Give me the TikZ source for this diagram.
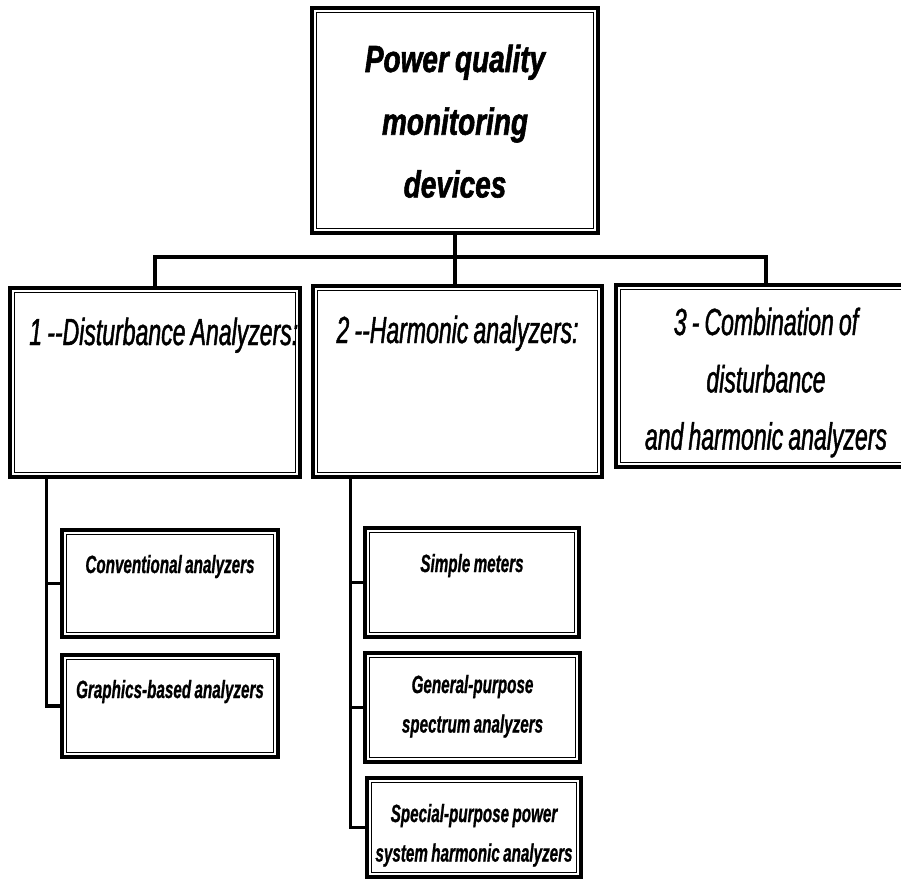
\documentclass[tikz,border=0pt]{standalone}
\usepackage{fontspec}
\usepackage{tikz}
\usetikzlibrary{calc}

% Condensed sans faces (the scan uses a narrow Arial-like face)
\newfontfamily\titlefont{Liberation Sans}[FakeStretch=0.74, FakeBold=1.5, WordSpace=0.8]
\newfontfamily\groupfamily{Liberation Sans}[FakeStretch=0.61, FakeBold=1.2, WordSpace=0.8]
\newfontfamily\itemfamily{Liberation Sans}[FakeStretch=0.61, FakeBold=0.8, WordSpace=0.8]

\begin{document}
\begin{tikzpicture}[
    x=0.02cm, y=-0.02cm,
    font=\groupfamily
]

    % Box style: thick frame with a thin inner line
    % Text sits near the top: text height = top -> first baseline,
    % text depth = the rest of the box.
    \tikzset{
        pqbox/.style={
            draw,
            line width=1.9pt,
            inner sep=0pt,
            align=flush center,
            path picture={
                \draw[line width=0.5pt]
                    ([xshift=2.7pt, yshift=-2.7pt]path picture bounding box.north west)
                    rectangle
                    ([xshift=-2.7pt, yshift=2.7pt]path picture bounding box.south east);
            }
        },
        link/.style={line width=1.8pt},
        headfont/.style={font=\titlefont\bfseries\itshape\fontsize{21.5}{35.7}\selectfont},
        groupfont/.style={font=\groupfamily\itshape\fontsize{21.5}{32.6}\selectfont},
        itemfont/.style={font=\itemfamily\bfseries\itshape\fontsize{14.2}{22.5}\selectfont}
    }

    \useasboundingbox (0,0) rectangle (901,879);
    \clip (0,0) rectangle (901,879);

    % Top box
    \node[pqbox, headfont, text width=5.72cm, text height=1.28cm, text depth=3.22cm]
        (pqm) at (455,120.5) {Power quality\\monitoring\\devices};

    % Three groups (the third one runs off the right edge)
    \node[pqbox, groupfont, text width=5.8cm, text height=1.14cm, text depth=2.64cm]
        (dist) at (155,382.5) {\hspace*{10pt}1 -\kern0pt-Disturbance Analyzers:};
    \node[pqbox, groupfont, text width=5.78cm, text height=1.14cm, text depth=2.68cm]
        (harm) at (457.5,381.5) {2 -\kern0pt-Harmonic analyzers:};
    \node[pqbox, groupfont, text width=6.0cm, text height=1.0cm, text depth=2.64cm]
        (comb) at (766,376) {3 - Combination of\\disturbance\\and harmonic analyzers\hspace*{8pt}};

    % Disturbance analyzers
    \node[pqbox, itemfont, text width=4.32cm, text height=0.86cm, text depth=1.28cm]
        (conv) at (170,583.5) {Conventional analyzers};
    \node[pqbox, itemfont, text width=4.32cm, text height=0.86cm, text depth=1.18cm]
        (graph) at (170,706) {Graphics-based analyzers};

    % Harmonic analyzers
    \node[pqbox, itemfont, text width=4.28cm, text height=0.88cm, text depth=1.30cm]
        (simple) at (472,582.5) {Simple meters};
    \node[pqbox, itemfont, text width=4.30cm, text height=0.80cm, text depth=1.38cm]
        (general) at (472.5,707.5) {General-purpose\\spectrum analyzers};
    \node[pqbox, itemfont, text width=4.28cm, text height=0.88cm, text depth=1.10cm]
        (special) at (474,827.5) {Special-purpose power\\system harmonic analyzers};

    % Bus from the top box to the groups
    \coordinate (bus) at (455,257);
    \draw[link] (pqm.south) -- (pqm.south |- harm.north);
    \draw[link] (dist.north) |- (bus) -| (comb.north);

    % Trunks down to the sub-boxes
    \coordinate (distroot) at ($(dist.south west)+(38,0)$);
    \draw[link] (distroot) |- (conv.west);
    \draw[link] (distroot) |- (graph.west);

    \coordinate (harmroot) at ($(harm.south west)+(39,0)$);
    \draw[link] (harmroot) |- (simple.west);
    \draw[link] (harmroot) |- (general.west);
    \draw[link] (harmroot) |- (special.west);

\end{tikzpicture}
\end{document}
